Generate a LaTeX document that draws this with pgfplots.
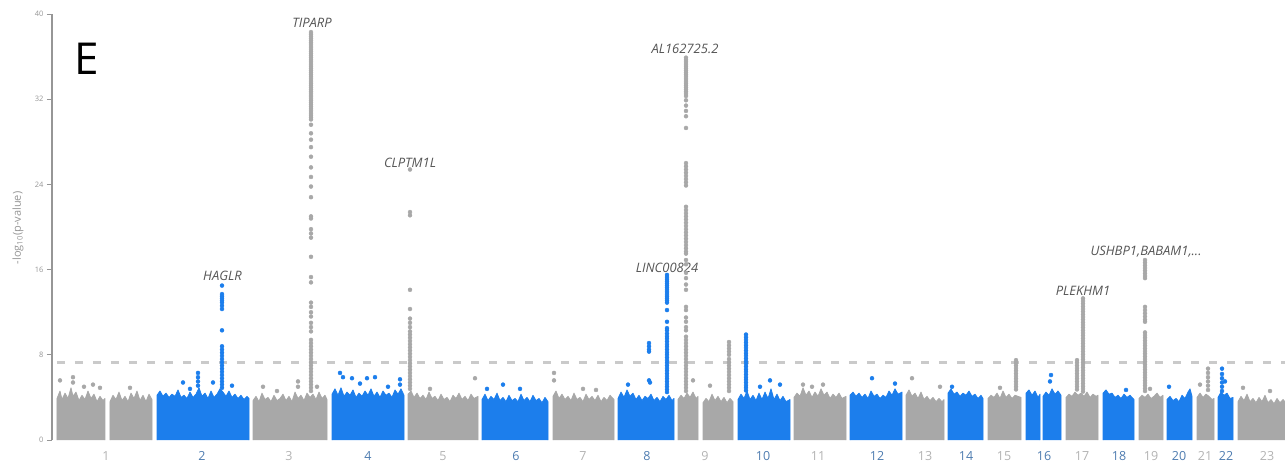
\documentclass[border=0pt]{standalone}
\usepackage{pgfplots}
\pgfplotsset{compat=1.18}
\usepackage{fontspec}
\setmainfont{Open Sans}

\definecolor{chrgrey}{RGB}{168,168,168}
\definecolor{chrblue}{RGB}{28,126,236}
\definecolor{sigline}{RGB}{202,202,202}
\definecolor{labgrey}{RGB}{178,178,178}
\definecolor{labblue}{RGB}{78,124,176}
\definecolor{genetext}{RGB}{85,85,85}
\definecolor{axisgrey}{RGB}{150,150,150}

\newcommand{\og}[1]{\textcolor{labgrey}{#1}}
\newcommand{\eb}[1]{\textcolor{labblue}{#1}}

\pgfplotsset{
  bulkgrey/.style={fill=chrgrey, draw=chrgrey, line width=0.8pt, line join=round},
  bulkblue/.style={fill=chrblue, draw=chrblue, line width=0.8pt, line join=round},
  snp/.style={only marks, mark=*, mark size=2pt, mark options={draw=none}},
}
\tikzset{gene/.style={font=\itshape\fontsize{13}{15}\selectfont, text=genetext}}

\begin{document}
\begin{tikzpicture}
\useasboundingbox (-52pt,-27pt) rectangle (1233pt,440pt);
\begin{axis}[
  scale only axis, width=1233pt, height=426pt,
  xmin=52, xmax=1285, ymin=0, ymax=40,
  axis y line*=left, axis x line*=bottom,
  x axis line style={-, draw=none},
  y axis line style={-, draw=axisgrey, line width=1.5pt},
  xtick={106,202,289,368,443,516,583,647,705,763,818,877,925,966,1004,1044,1082,1119,1151,1179,1205,1226,1267},
  xticklabels={\og{1},\eb{2},\og{3},\eb{4},\og{5},\eb{6},\og{7},\eb{8},\og{9},\eb{10},\og{11},\eb{12},\og{13},\eb{14},\og{15},\eb{16},\og{17},\eb{18},\og{19},\eb{20},\og{21},\eb{22},\og{23}},
  xtick style={draw=none},
  xticklabel style={font=\fontsize{12.5}{14}\selectfont, yshift=-3pt},
  ytick={0,8,16,24,32,40},
  yticklabels={0,8,16,24,32,40},
  ytick style={draw=axisgrey, line width=1pt},
  tick align=outside, major tick length=5pt,
  yticklabel style={font=\fontsize{7.5}{9}\selectfont, text=axisgrey},
  ylabel={-log\textsubscript{10}(p-value)},
  ylabel style={at={(axis description cs:-0.0276,0.498)}, anchor=center,
    font=\fontsize{11}{13}\selectfont, text=axisgrey},
]

% bulk of association signals, one block per chromosome
\addplot[bulkgrey] coordinates {(57,0)(57,3.9)(60,4.6)(62,3.8)(65,4.4)(68,3.9)(71,4.9)(73,4.1)(76,4.5)(79,3.7)(82,4.2)(85,3.8)(88,4.6)(91,3.9)(94,4.3)(97,3.6)(100,4.1)(103,3.7)(105,3.9)(105,0)};
\addplot[bulkgrey] coordinates {(110,0)(110,3.6)(113,4.2)(116,3.8)(119,4.5)(122,3.7)(125,4.1)(128,3.6)(131,4.4)(134,3.9)(137,4.6)(140,3.7)(143,4.2)(146,3.6)(149,4.3)(152,3.8)(152,0)};
\addplot[bulkblue] coordinates {(157,0)(157,4.2)(160,4.6)(163,4.1)(166,4.4)(169,4.0)(172,4.3)(175,4.1)(178,4.7)(181,4.0)(184,4.2)(187,3.9)(190,4.5)(193,4.0)(196,4.3)(199,4.9)(202,4.1)(205,4.4)(208,3.9)(211,4.6)(214,4.0)(217,4.3)(220,4.8)(223,4.5)(226,4.1)(229,4.6)(232,4.0)(235,4.3)(238,3.9)(241,4.2)(244,3.8)(247,4.1)(249,3.9)(249,0)};
\addplot[bulkgrey] coordinates {(253,0)(253,3.7)(256,4.1)(259,3.6)(262,4.4)(265,3.8)(268,4.0)(271,3.6)(274,4.2)(277,3.7)(280,3.9)(283,4.3)(286,3.7)(289,4.1)(292,3.6)(295,4.5)(298,3.9)(301,4.2)(304,3.7)(307,4.4)(310,4.0)(313,4.3)(316,3.8)(319,4.5)(322,3.9)(325,4.2)(327,3.8)(327,0)};
\addplot[bulkblue] coordinates {(332,0)(332,4.3)(335,4.8)(338,4.2)(341,4.9)(344,4.1)(347,4.5)(350,4.2)(353,4.7)(356,4.0)(359,4.4)(362,4.1)(365,4.6)(368,4.2)(371,4.8)(374,4.1)(377,4.5)(380,4.0)(383,4.6)(386,4.2)(389,4.4)(392,4.0)(395,4.7)(398,4.3)(401,4.8)(404,4.2)(404,0)};
\addplot[bulkgrey] coordinates {(408,0)(408,4.3)(411,4.6)(414,4.0)(417,4.4)(420,3.9)(423,4.2)(426,3.8)(429,4.5)(432,3.9)(435,4.1)(438,3.7)(441,4.3)(444,3.8)(447,4.0)(450,3.6)(453,4.2)(456,3.9)(459,4.4)(462,3.8)(465,4.1)(468,3.7)(471,4.3)(474,3.9)(478,4.1)(478,0)};
\addplot[bulkblue] coordinates {(482,0)(482,3.8)(485,4.3)(488,3.7)(491,4.1)(494,3.8)(497,4.4)(500,3.7)(503,4.0)(506,3.6)(509,4.2)(512,3.7)(515,3.9)(518,3.6)(521,4.3)(524,3.7)(527,4.0)(530,3.6)(533,4.2)(536,3.7)(539,3.9)(542,3.5)(545,4.0)(548,3.6)(548,0)};
\addplot[bulkgrey] coordinates {(553,0)(553,4.1)(556,4.6)(559,3.9)(562,4.3)(565,3.8)(568,4.1)(571,3.7)(574,4.4)(577,3.8)(580,4.0)(583,3.6)(586,4.3)(589,3.8)(592,4.1)(595,3.7)(598,4.2)(601,3.6)(604,4.0)(607,3.7)(610,4.2)(614,3.8)(614,0)};
\addplot[bulkblue] coordinates {(618,0)(618,3.9)(621,4.5)(624,4.0)(627,4.7)(630,4.1)(633,4.4)(636,3.8)(639,4.2)(642,3.7)(645,4.1)(648,3.9)(651,4.3)(654,3.7)(657,4.0)(660,3.6)(663,4.1)(666,3.8)(669,4.2)(672,3.7)(674,3.9)(674,0)};
\addplot[bulkgrey] coordinates {(678,0)(678,3.8)(681,4.2)(684,3.9)(687,4.4)(690,4.0)(693,4.5)(696,3.9)(698,4.1)(698,0)};
\addplot[bulkgrey] coordinates {(703,0)(703,3.5)(706,3.9)(709,3.6)(712,4.3)(715,3.7)(718,4.1)(721,3.6)(724,4.0)(727,3.5)(730,3.9)(733,3.6)(733,0)};
\addplot[bulkblue] coordinates {(738,0)(738,3.8)(741,4.3)(744,3.9)(747,4.6)(750,3.8)(753,4.2)(756,3.7)(759,4.4)(762,3.8)(765,4.5)(768,3.9)(771,4.8)(774,3.8)(777,4.3)(780,3.7)(783,4.1)(786,3.6)(790,3.8)(790,0)};
\addplot[bulkgrey] coordinates {(794,0)(794,4.0)(797,4.4)(800,4.1)(803,4.9)(806,4.2)(809,4.6)(812,4.0)(815,4.5)(818,4.1)(821,4.8)(824,4.2)(827,4.5)(830,3.9)(833,4.3)(836,4.0)(839,4.4)(842,3.9)(846,4.1)(846,0)};
\addplot[bulkblue] coordinates {(850,0)(850,4.2)(853,4.5)(856,4.1)(859,4.4)(862,4.0)(865,4.3)(868,3.9)(871,4.6)(874,4.1)(877,4.3)(880,3.9)(883,4.2)(886,4.0)(889,4.6)(892,4.2)(895,4.8)(898,4.3)(902,4.5)(902,0)};
\addplot[bulkgrey] coordinates {(906,0)(906,4.2)(909,4.7)(912,4.1)(915,4.4)(918,3.9)(921,4.5)(924,3.8)(927,4.1)(930,3.7)(933,4.0)(936,3.6)(939,3.9)(942,3.6)(944,3.8)(944,0)};
\addplot[bulkblue] coordinates {(948,0)(948,4.4)(951,4.8)(954,4.3)(957,4.5)(960,4.1)(963,4.4)(966,4.2)(969,4.6)(972,4.1)(975,4.3)(978,3.9)(981,4.2)(983,3.9)(983,0)};
\addplot[bulkgrey] coordinates {(988,0)(988,3.9)(991,4.2)(994,4.0)(997,4.4)(1000,3.9)(1003,4.6)(1006,4.0)(1009,4.3)(1012,3.9)(1015,4.2)(1018,4.1)(1021,4.0)(1021,0)};
\addplot[bulkblue] coordinates {(1026,0)(1026,4.4)(1029,4.7)(1032,4.2)(1035,4.6)(1038,4.0)(1040,4.3)(1040,0)};
\addplot[bulkblue] coordinates {(1043,0)(1043,4.1)(1046,4.5)(1049,4.2)(1052,4.8)(1055,4.3)(1058,4.6)(1061,4.2)(1061,0)};
\addplot[bulkgrey] coordinates {(1066,0)(1066,4.0)(1069,4.3)(1072,4.1)(1075,4.5)(1078,4.2)(1081,4.4)(1084,4.1)(1087,4.5)(1090,4.0)(1093,4.3)(1096,4.1)(1098,4.2)(1098,0)};
\addplot[bulkblue] coordinates {(1103,0)(1103,4.4)(1106,4.7)(1109,4.3)(1112,4.4)(1115,4.0)(1118,4.2)(1121,3.9)(1124,4.3)(1127,4.0)(1130,4.2)(1134,3.8)(1134,0)};
\addplot[bulkgrey] coordinates {(1139,0)(1139,3.9)(1142,4.2)(1145,4.0)(1148,4.3)(1151,3.9)(1154,4.1)(1157,4.4)(1160,4.0)(1163,4.2)(1163,0)};
\addplot[bulkblue] coordinates {(1167,0)(1167,3.8)(1170,4.1)(1173,3.7)(1176,3.9)(1179,3.6)(1182,4.2)(1185,3.9)(1188,4.5)(1190,4.8)(1192,4.1)(1192,0)};
\addplot[bulkgrey] coordinates {(1197,0)(1197,4.0)(1200,4.4)(1203,4.0)(1206,4.3)(1209,4.1)(1212,3.8)(1214,3.9)(1214,0)};
\addplot[bulkblue] coordinates {(1218,0)(1218,4.0)(1221,4.5)(1224,4.2)(1227,4.4)(1230,3.9)(1233,4.0)(1233,0)};
\addplot[bulkgrey] coordinates {(1238,0)(1238,3.6)(1241,4.1)(1244,3.7)(1247,4.3)(1250,3.6)(1253,3.9)(1256,3.5)(1259,4.0)(1262,3.6)(1265,4.2)(1268,3.5)(1271,3.8)(1274,3.4)(1277,3.9)(1280,3.5)(1283,3.8)(1286,3.5)(1290,3.7)(1290,0)};

% genome-wide significance threshold
\addplot[sigline, line width=2.7pt, dash pattern=on 8pt off 10pt] coordinates {(57,7.3) (1285,7.3)};

% grey chromosomes: peaks and scattered hits
\addplot[snp, chrgrey] coordinates {
(311,38.3)(311,38.1)(311,37.9)(311,37.7)(311,37.5)(311,37.3)(311,37.1)(311,36.9)(311,36.7)(311,36.5)(311,36.3)(311,36.1)(311,35.9)(311,35.7)(311,35.5)(311,35.3)(311,35.1)(311,34.9)(311,34.7)(311,34.5)(311,34.3)(311,34.1)(311,33.9)(311,33.7)(311,33.5)(311,33.3)(311,33.1)(311,32.9)(311,32.7)(311,32.5)(311,32.3)(311,32.1)(311,31.9)(311,31.7)(311,31.5)(311,31.3)(311,31.1)(311,30.9)(311,30.7)(311,30.5)(311,30.3)(311,30.1)
(311,29.6)(311,28.8)(311,28.2)(311,27.5)(311,26.6)(311,25.6)(311,24.7)(311,23.8)(311,22.8)(311,21.0)(311,20.8)(311,19.8)(311,19.4)(311,19.0)(311,17.2)(311,15.3)(311,14.8)(311,12.9)(311,12.5)(311,12.0)(311,11.6)(311,11.0)(311,10.6)(311,10.2)(311,9.4)(311,9.1)(311,8.8)(311,8.5)(311,8.2)(311,7.9)(311,7.6)(311,7.3)(311,7.0)(311,6.7)(311,6.4)(311,6.1)(311,5.8)(311,5.5)(311,5.2)(311,4.9)(311,4.6)
(410,25.4)(410,21.4)(410,21.1)(410,14.1)(410,12.3)(410,11.4)(410,11.0)(410,10.6)(410,10.2)(410,9.9)(410,9.6)(410,9.3)(410,9.0)(410,8.7)(410,8.4)(410,8.1)(410,7.8)(410,7.5)(410,7.2)(410,6.9)(410,6.6)(410,6.3)(410,6.0)(410,5.7)(410,5.4)(410,5.1)(410,4.8)
(686,35.9)(686,35.7)(686,35.5)(686,35.3)(686,35.1)(686,34.9)(686,34.7)(686,34.5)(686,34.3)(686,34.1)(686,33.9)(686,33.7)(686,33.5)(686,33.3)(686,33.1)(686,32.9)(686,32.7)(686,32.5)(686,32.3)(686,31.9)(686,31.4)(686,30.9)(686,30.4)(686,29.3)
(686,26.0)(686,25.7)(686,25.4)(686,25.1)(686,24.8)(686,24.5)(686,24.2)(686,23.9)
(686,21.9)(686,21.6)(686,21.3)(686,21.0)(686,20.7)(686,20.4)(686,20.1)(686,19.8)(686,19.5)(686,19.2)(686,18.9)(686,18.6)(686,18.3)(686,18.0)(686,17.7)(686,17.5)(686,16.9)(686,16.5)
(686,15.7)(686,15.2)(686,14.6)(686,14.1)(686,12.5)(686,12.2)(686,11.5)(686,11.1)(686,10.6)(686,10.3)(686,9.7)(686,9.4)(686,9.1)(686,8.8)(686,8.5)(686,8.2)(686,7.9)(686,7.6)(686,7.3)(686,7.0)(686,6.7)(686,6.4)(686,6.1)(686,5.8)(686,5.5)(686,5.2)(686,4.9)(686,4.6)
(729,9.2)(729,8.9)(729,8.6)(729,8.3)(729,8.0)(729,7.6)(729,7.3)(729,7.0)(729,6.7)(729,6.4)(729,6.1)(729,5.8)(729,5.5)(729,5.2)(729,4.9)(729,4.6)
(1016,7.5)(1016,7.25)(1016,7.0)(1016,6.75)(1016,6.5)(1016,6.25)(1016,6.0)(1016,5.75)(1016,5.5)(1016,5.25)(1016,5.0)(1016,4.75)
(1077,7.5)(1077,7.25)(1077,7.0)(1077,6.75)(1077,6.5)(1077,6.25)(1077,6.0)(1077,5.75)(1077,5.5)(1077,5.25)(1077,5.0)(1077,4.75)
(1083,13.3)(1083,13.05)(1083,12.8)(1083,12.55)(1083,12.3)(1083,12.05)(1083,11.8)(1083,11.55)(1083,11.3)(1083,11.05)(1083,10.8)(1083,10.55)(1083,10.3)(1083,10.05)(1083,9.8)(1083,9.55)(1083,9.3)(1083,9.05)(1083,8.8)(1083,8.55)(1083,8.3)(1083,8.05)(1083,7.8)(1083,7.55)(1083,7.3)(1083,7.05)(1083,6.8)(1083,6.55)(1083,6.3)(1083,6.05)(1083,5.8)(1083,5.55)(1083,5.3)(1083,5.05)(1083,4.8)(1083,4.55)
(1145,16.9)(1145,16.65)(1145,16.4)(1145,16.15)(1145,15.9)(1145,15.65)(1145,15.4)(1145,15.2)(1145,12.5)(1145,12.2)(1145,11.9)(1145,11.6)(1145,11.3)(1145,11.1)
(1145,10.1)(1145,9.85)(1145,9.6)(1145,9.35)(1145,9.1)(1145,8.85)(1145,8.6)(1145,8.35)(1145,8.1)(1145,7.85)(1145,7.6)(1145,7.35)(1145,7.1)(1145,6.85)(1145,6.6)(1145,6.35)(1145,6.1)(1145,5.85)(1145,5.6)(1145,5.35)(1145,5.1)(1145,4.85)(1145,4.6)
(1208,6.7)(1208,6.3)(1208,5.9)(1208,5.5)(1208,5.1)(1208,4.7)
(60,5.6)(73,5.9)(73,5.4)(93,5.2)(100,4.9)(84,5.0)(130,4.9)(263,5.0)(298,5.5)(298,5.0)(317,5.0)(277,4.6)(430,4.8)(475,5.8)(554,6.3)(554,5.6)(583,4.8)(596,4.7)(693,5.6)(710,5.1)(803,5.2)(823,5.2)(812,5.0)(912,5.8)(940,5.0)(1000,4.9)(1200,5.2)(1243,4.9)(1270,4.6)(1150,4.8)
};

% blue chromosomes: peaks and scattered hits
\addplot[snp, chrblue] coordinates {
(222,14.5)(222,13.7)(222,13.5)(222,13.3)(222,13.1)(222,12.9)(222,12.6)(222,12.3)(222,10.3)(222,8.8)(222,8.5)(222,8.2)(222,7.9)(222,7.6)(222,7.3)(222,7.0)(222,6.7)(222,6.4)(222,6.1)(222,5.8)(222,5.5)(222,5.2)(222,4.9)
(667,15.5)(667,15.3)(667,15.1)(667,14.9)(667,14.7)(667,14.5)(667,14.3)(667,14.1)(667,13.9)(667,13.7)(667,13.5)(667,13.3)(667,13.1)(667,12.9)(667,12.2)(667,11.1)(667,10.5)(667,10.3)
(667,10.0)(667,9.75)(667,9.5)(667,9.25)(667,9.0)(667,8.75)(667,8.5)(667,8.25)(667,8.0)(667,7.75)(667,7.5)(667,7.25)(667,7.0)(667,6.75)(667,6.5)(667,6.25)(667,6.0)(667,5.75)(667,5.5)(667,5.25)(667,5.0)(667,4.75)(667,4.5)
(649,9.1)(649,8.8)(649,8.5)(649,8.3)(649,5.6)
(746,9.9)(746,9.65)(746,9.4)(746,9.15)(746,8.9)(746,8.65)(746,8.4)(746,8.15)(746,7.9)(746,7.65)(746,7.4)(746,7.15)(746,6.9)(746,6.65)(746,6.4)(746,6.15)(746,5.9)(746,5.65)(746,5.4)(746,5.15)(746,4.9)(746,4.65)
(1222,6.7)(1222,6.2)(1222,5.8)(1222,5.4)(1222,5.0)(1222,4.6)
(183,5.4)(198,6.3)(198,5.9)(198,5.5)(198,5.1)(213,5.4)(232,5.1)(190,4.8)(340,6.3)(343,5.9)(352,5.8)(367,5.8)(375,5.9)(388,5.0)(400,5.7)(400,5.2)(360,5.3)(487,4.8)(503,5.2)(520,4.8)(628,5.2)(650,5.4)(770,5.6)(780,5.2)(760,5.0)(872,5.8)(895,5.3)(952,5.0)(1051,6.1)(1050,5.5)(1126,4.7)(1169,5.0)(1225,5.5)
};

% lead genes
\node[gene] at (axis cs:222.5,15.4) {HAGLR};
\node[gene] at (axis cs:312,39.2) {TIPARP};
\node[gene] at (axis cs:410,26.06) {CLPTM1L};
\node[gene] at (axis cs:685,36.7) {AL162725.2};
\node[gene] at (axis cs:667,16.2) {LINC00824};
\node[gene] at (axis cs:1083,14.0) {PLEKHM1};
\node[gene] at (axis cs:1146,17.65) {USHBP1,BABAM1,...};

% panel letter
\node[font=\fontsize{44}{44}\selectfont, text=black] at (axis cs:87,35.8) {E};
\end{axis}
\end{tikzpicture}
\end{document}
